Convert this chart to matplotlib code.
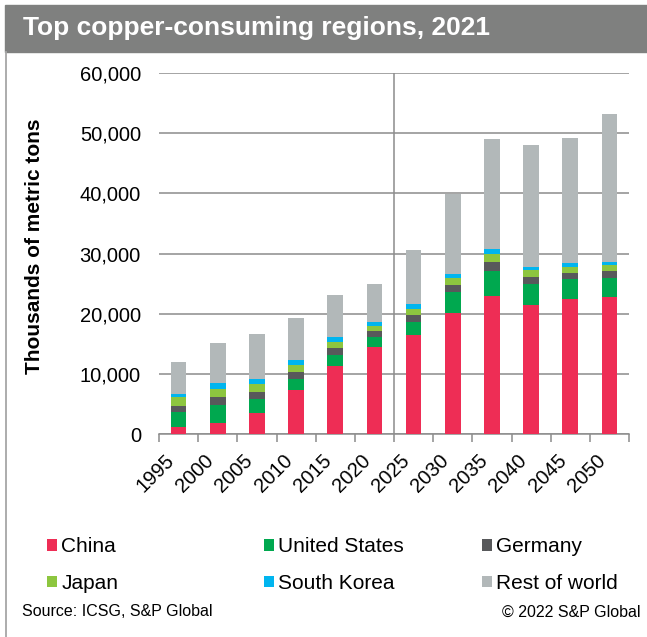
import numpy as np
import matplotlib
matplotlib.use("Agg")
import matplotlib.pyplot as plt
from matplotlib.patches import Rectangle
from matplotlib.ticker import FuncFormatter
from matplotlib.transforms import ScaledTranslation

# thousands of metric tons
years = ["1995", "2000", "2005", "2010", "2015", "2020",
         "2025", "2030", "2035", "2040", "2045", "2050"]
china = [1100, 1850, 3550, 7350, 11350, 14400, 16400, 20100, 22900, 21500, 22500, 22700]
united_states = [2500, 3000, 2300, 1750, 1700, 1700, 2250, 3450, 4200, 3500, 3200, 3300]
germany = [1100, 1350, 1150, 1200, 1300, 1050, 1150, 1200, 1500, 1100, 1100, 1150]
japan = [1450, 1300, 1250, 1150, 1000, 850, 1050, 1250, 1400, 1100, 950, 950]
south_korea = [500, 900, 850, 850, 700, 650, 700, 650, 800, 600, 650, 500]
rest_of_world = [5350, 6700, 7550, 7050, 7050, 6350, 9100, 13300, 18200, 20200, 20850, 24600]

series_names = ["China", "United States", "Germany", "Japan", "South Korea", "Rest of world"]
series_colors = ["#EE2D55", "#00A84F", "#58595B", "#8DC63F", "#00B5EF", "#B2B8B9"]

GRID = "#8C8C8C"


def plot_chart(output_path: str) -> None:
    plt.rcParams["font.family"] = ["Liberation Sans", "DejaVu Sans"]
    fig = plt.figure(figsize=(6.47, 6.37), dpi=100)
    W, H = 647, 637

    # title banner + left frame line
    fig.patches.append(Rectangle((5 / W, 1 - 52 / H), 1 - 5 / W, 47 / H,
                                 transform=fig.transFigure, color="#7F807F", zorder=0))
    fig.add_artist(plt.Line2D([6 / W, 6 / W], [0, 1 - 52 / H], transform=fig.transFigure,
                              color="#A6A6A6", lw=1.3))
    fig.text(23 / W, 1 - 28 / H, "Top copper-consuming regions, 2021", color="white",
             fontsize=19, fontweight="bold", ha="left", va="center")

    ax = fig.add_axes([159 / W, 1 - 434 / H, 470 / W, 361 / H])
    x = np.arange(len(years))
    values = [china, united_states, germany, japan, south_korea, rest_of_world]
    bottom = np.zeros(len(years))
    handles = []
    for name, vals, color in zip(series_names, values, series_colors):
        b = ax.bar(x, vals, width=0.4, bottom=bottom, color=color, label=name,
                   linewidth=0, zorder=3)
        handles.append(b)
        bottom += np.array(vals)

    ax.set_xlim(-0.5, len(years) - 0.5)
    ax.set_ylim(0, 60000)
    ax.set_yticks(np.arange(0, 60001, 10000))
    ax.yaxis.set_major_formatter(FuncFormatter(lambda v, p: f"{int(v):,}"))
    ax.grid(axis="y", color=GRID, lw=1.1, zorder=0)
    ax.tick_params(axis="y", length=0, pad=13, labelsize=14.5)

    ax.set_xticks(x)
    ax.set_xticklabels(years, rotation=45, ha="right", va="center", rotation_mode="anchor")
    ax.tick_params(axis="x", which="major", length=0, pad=17, labelsize=14.5)
    shift = ScaledTranslation(-5 / 72, 0, fig.dpi_scale_trans)
    for lbl in ax.get_xticklabels():
        lbl.set_transform(lbl.get_transform() + shift)
    ax.set_xticks(np.arange(-0.5, len(years), 1.0), minor=True)
    ax.tick_params(axis="x", which="minor", length=6, width=1.1, color=GRID, direction="out")

    for side in ["top", "left", "right"]:
        ax.spines[side].set_visible(False)
    ax.spines["bottom"].set_color(GRID)
    ax.spines["bottom"].set_linewidth(1.1)
    # history / forecast divider
    ax.axvline(5.5, color=GRID, lw=1.1, zorder=2)

    fig.text(35 / W, 1 - 246 / H, "Thousands of metric tons", rotation=90,
             fontsize=15, fontweight="bold", ha="center", va="center")

    # legend: three columns, two rows
    col_x = [47, 264, 482]
    for i, cx in enumerate(col_x):
        hs = [handles[i], handles[i + 3]]
        fig.legend(hs, [series_names[i], series_names[i + 3]], loc="center left",
                   bbox_to_anchor=(cx / W, 1 - 565 / H), frameon=False, fontsize=15,
                   handlelength=0.48, handleheight=0.48, handletextpad=0.2,
                   labelspacing=0.85, borderpad=0, borderaxespad=0)

    fig.text(22 / W, 1 - 612 / H, "Source: ICSG, S&P Global", fontsize=11.5,
             ha="left", va="center")
    fig.text(641 / W, 1 - 612 / H, "\u00a9 2022 S&P Global", fontsize=11.5,
             ha="right", va="center")

    fig.savefig(output_path, dpi=100)


if __name__ == "__main__":
    plot_chart("out.png")
